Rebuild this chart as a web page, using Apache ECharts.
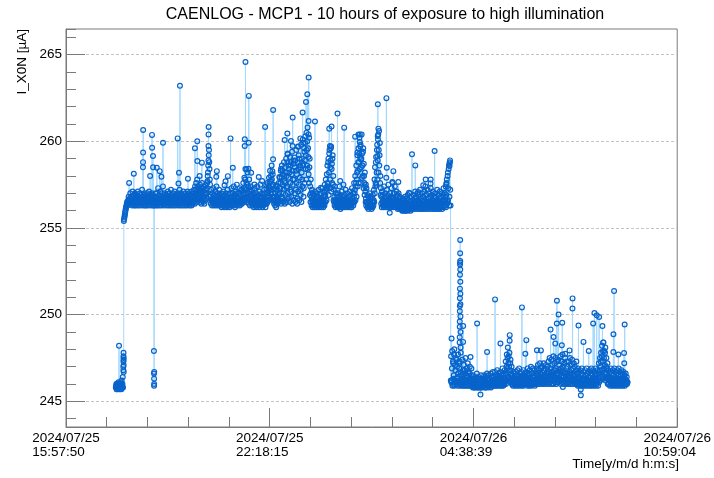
<!DOCTYPE html>
<html><head><meta charset="utf-8">
<script src="https://cdn.jsdelivr.net/npm/echarts@6/dist/echarts.min.js"></script>
<style>html,body{margin:0;padding:0;background:#fff}#c{width:714px;height:478px}</style>
</head><body><div id="c"></div>
<script>
// ---------- texts ----------
const titleText = 'CAENLOG - MCP1 - 10 hours of exposure to high illumination';
const yName = 'I_X0N [\u00b5A]';
const xName = 'Time[y/m/d h:m:s]';
// ---------- axes ----------
const axisSpan = 68474; // seconds: 2024/07/25 15:57:50 -> 2024/07/26 10:59:04
const xTickDates = ['2024/07/25', '2024/07/25', '2024/07/26', '2024/07/26'];
const xTickTimes = ['15:57:50', '22:18:15', '04:38:39', '10:59:04'];
const yMin = 243.52, yMax = 266.48;
// ---------- log readings (seconds from axis start) ----------
const sampleStart = 5580;
const sampleStep = 60;
// readings taken on the full minute
const current = [
245.8,246.0,245.7,245.9,245.8,246.1,248.2,245.8,245.7,246.0,245.9,246.2,245.8,246.4,247.0,
255.4,255.6,255.8,256.0,256.2,256.3,256.5,256.4,256.6,256.8,256.5,256.7,257.0,256.6,256.8,256.5,257.1,256.7,256.9,256.6,
256.6,257.0,256.8,256.5,256.9,256.7,257.1,256.6,256.8,256.5,257.0,256.7,256.9,256.6,257.2,256.8,256.5,256.9,256.7,257.0,
256.7,256.5,256.9,256.6,257.0,256.8,256.5,257.1,256.7,256.9,256.6,256.8,257.0,256.5,256.9,256.7,256.3,256.8,256.6,257.0,
256.8,256.5,257.0,256.7,257.3,256.6,256.9,256.5,257.1,256.8,256.6,257.0,256.7,257.4,256.5,256.9,256.6,257.0,256.8,256.5,
256.9,256.6,257.1,256.7,256.5,257.0,256.8,256.6,257.2,256.7,256.9,256.5,257.0,256.8,256.6,257.1,256.7,256.9,256.5,256.8,
257.0,256.6,256.9,256.7,257.2,256.5,256.8,257.0,256.6,256.9,256.7,257.1,256.5,256.8,256.6,257.0,256.7,256.9,256.6,257.1,
256.8,256.6,257.0,256.7,256.9,256.5,257.1,256.8,256.6,257.0,256.7,257.2,256.9,257.4,256.7,257.6,257.0,257.8,256.8,257.3,
257.1,256.7,257.5,256.9,257.3,256.6,257.6,257.0,256.8,257.4,256.7,257.2,256.9,257.5,257.0,257.3,257.7,258.2,258.9,259.5,
258.4,257.5,256.9,257.2,256.6,257.0,256.7,257.3,256.5,256.9,256.7,257.1,256.6,257.4,256.8,257.0,256.5,256.9,257.2,256.7,
256.9,256.5,257.0,256.7,256.4,256.8,257.1,256.6,256.9,256.5,257.0,256.7,256.8,256.4,257.2,256.6,256.9,256.5,257.0,256.7,
256.8,257.3,256.6,257.0,256.5,257.4,256.7,256.9,256.4,257.1,256.6,257.5,256.8,256.5,257.0,256.7,257.3,256.6,256.9,257.2,
256.7,257.2,256.5,257.6,256.9,257.9,257.3,258.4,257.0,257.6,256.8,258.2,257.4,256.7,257.8,257.1,256.6,257.4,256.9,257.2,
256.6,257.0,256.5,256.9,257.3,256.7,256.4,257.0,256.8,257.4,256.6,256.9,256.5,257.1,256.7,257.5,256.8,256.4,257.0,256.6,
256.9,256.5,257.2,256.7,257.0,256.4,257.3,256.8,257.6,256.6,257.1,257.9,257.3,258.3,257.0,257.7,258.6,257.4,258.1,257.5,
256.8,257.3,256.5,257.0,256.6,257.4,256.8,257.2,256.5,257.6,257.0,257.9,257.3,258.3,256.8,258.6,257.5,258.1,257.0,258.8,
257.7,258.5,256.9,259.0,258.0,257.4,259.3,258.6,256.8,258.2,259.1,257.6,258.8,257.1,259.4,258.3,257.8,258.9,256.6,258.5,
258.9,257.2,259.5,258.1,256.7,259.7,258.4,257.5,259.0,258.6,256.9,259.8,258.2,257.8,260.1,258.7,257.3,259.4,258.9,260.3,
259.2,260.5,258.6,260.8,259.6,258.1,260.2,259.0,257.4,257.8,256.8,257.2,256.5,257.0,256.7,256.4,256.9,257.1,256.6,256.8,
257.0,256.5,256.8,256.3,257.2,256.6,256.9,256.4,257.0,256.7,256.5,257.3,256.8,256.4,257.1,257.5,256.9,257.8,257.3,258.1,
258.6,257.4,259.0,258.2,259.5,257.8,258.9,259.7,258.4,257.6,259.2,258.0,257.2,256.8,257.4,256.6,257.0,256.4,256.9,256.5,
257.0,256.4,256.8,257.4,256.5,256.9,256.2,257.1,256.6,256.8,257.5,256.3,256.9,256.5,257.2,256.7,256.4,257.0,256.6,256.3,
256.8,256.4,257.1,256.6,256.9,256.2,257.3,256.7,257.0,256.5,257.6,257.0,258.0,257.4,258.6,257.8,259.2,258.3,259.6,258.8,
260.2,259.1,259.8,258.5,260.4,259.3,258.0,259.6,258.7,257.6,258.2,257.1,256.7,257.3,256.5,256.9,256.3,256.8,256.5,257.0,
256.4,256.8,256.2,256.7,256.5,256.9,256.3,257.2,257.8,258.5,257.6,259.1,258.2,259.8,258.9,260.4,259.5,258.6,259.9,258.0,
257.3,256.8,257.1,256.5,256.9,256.3,257.4,256.6,257.0,256.4,256.8,257.2,256.5,256.9,257.5,256.7,256.3,257.0,256.6,256.8,
257.3,256.7,257.6,256.5,257.0,256.4,257.4,256.8,256.3,257.1,256.6,256.9,256.2,257.0,256.5,256.8,256.3,256.7,256.1,256.6,
256.4,256.7,256.1,256.6,256.3,256.8,256.0,256.5,256.7,256.2,256.9,256.4,256.6,256.1,257.0,256.5,256.3,256.8,256.2,256.6,
256.4,256.9,256.2,256.7,257.1,256.5,256.8,256.3,257.0,256.6,256.2,256.9,256.5,257.2,256.4,256.7,256.3,257.0,256.6,256.8,
256.4,257.1,256.6,257.4,256.3,256.9,256.5,257.2,256.7,256.3,257.0,256.5,256.8,257.3,256.4,256.9,256.6,257.1,256.3,256.8,
256.5,257.0,256.3,256.8,256.6,257.2,256.4,256.9,256.2,256.7,257.1,256.5,256.8,256.3,257.0,256.6,256.9,257.3,256.5,257.0,
256.6,257.4,256.9,257.8,256.5,258.2,257.3,258.6,256.8,258.9,256.3,
247.6,246.2,247.9,246.0,247.2,246.5,248.0,246.1,246.8,247.5,246.0,247.0,246.4,247.7,246.2,246.9,247.3,246.0,247.8,246.5,
246.3,247.4,246.0,246.8,247.1,246.2,246.6,247.5,246.1,246.9,246.4,247.2,246.0,246.7,246.3,247.0,246.1,246.5,246.9,246.2,
246.0,246.5,245.9,246.3,245.8,246.4,246.1,245.9,246.6,246.0,246.2,245.8,246.4,245.9,246.3,246.0,246.5,245.8,246.2,246.0,
246.3,245.9,246.5,246.1,245.8,246.4,246.0,246.6,245.9,246.2,246.5,246.0,246.3,245.9,246.6,246.1,246.4,246.0,246.7,246.2,
246.4,246.0,246.7,246.2,246.5,246.0,246.8,246.3,246.1,246.6,246.0,246.4,246.7,246.1,246.5,246.2,246.9,246.0,246.6,246.3,
246.8,246.2,247.3,246.5,247.7,246.9,248.1,247.2,246.4,247.8,246.8,247.4,246.3,247.0,246.5,246.1,246.7,246.3,246.0,246.6,
246.2,246.7,246.0,246.5,246.8,246.1,246.4,246.9,246.2,246.6,246.0,246.7,246.3,246.5,246.1,246.8,246.4,246.0,246.6,246.3,
246.7,246.1,246.5,246.9,246.2,246.6,246.0,246.8,246.4,247.0,246.2,246.6,246.1,246.9,246.5,246.2,246.8,246.0,246.6,246.3,
246.9,246.3,247.1,246.5,246.8,246.2,247.2,246.6,246.9,246.3,247.0,246.4,246.8,247.2,246.5,246.9,246.2,247.1,246.6,246.4,
247.0,246.4,247.3,246.7,247.5,246.2,246.9,247.4,246.5,247.1,246.3,247.6,246.8,247.2,246.4,247.5,246.9,246.2,247.3,246.6,
247.4,246.8,247.1,246.3,247.6,246.9,247.3,246.5,247.7,247.0,246.4,247.2,246.7,247.5,246.2,246.9,247.3,246.6,247.0,246.4,
247.3,246.7,247.5,246.4,247.1,246.8,247.4,246.3,246.9,247.2,246.5,247.0,246.2,246.8,247.3,246.6,246.1,246.9,246.4,246.7,
246.3,246.8,246.1,246.6,246.9,246.2,246.5,246.0,246.7,246.3,246.8,246.1,246.5,246.9,246.2,246.6,246.0,246.7,246.4,246.8,
246.2,246.6,246.9,246.1,246.5,246.8,246.3,246.7,246.1,246.6,246.9,246.3,246.5,246.8,246.2,246.7,247.2,246.6,247.5,247.0,
247.8,246.8,248.2,247.3,248.4,246.9,247.9,247.1,248.1,246.6,247.5,246.9,247.2,246.4,246.8,246.2,246.7,246.3,246.9,246.1,
246.6,246.2,246.8,246.0,246.5,246.9,246.3,246.7,246.1,246.6,246.8,246.2,246.5,246.9,246.3,246.7,246.1,246.5,246.8,246.3,
246.6,246.2,246.7,246.1,246.5,246.3,246.6,246.2,246.4,246.1
];
// readings taken on the half minute
const midOffset = 30;
const currentMid = [
245.9,245.7,246.0,245.8,245.9,245.7,246.0,245.8,245.9,246.1,245.7,245.9,246.0,245.8,247.4,
255.5,255.7,255.9,256.1,256.2,256.4,256.3,256.5,256.4,256.6,256.4,256.5,256.6,256.4,256.5,256.3,256.6,256.4,256.5,256.3,
256.4,256.6,256.3,256.5,256.4,256.7,256.3,256.5,256.6,256.4,256.3,256.6,256.5,256.4,256.7,256.3,256.5,256.4,256.6,256.3,
256.5,256.3,256.6,256.4,256.5,256.3,256.7,256.4,256.5,256.6,256.3,256.5,256.4,256.6,256.3,256.5,246.3,256.4,256.6,256.3,
256.4,256.6,256.3,256.5,256.4,256.7,256.3,256.5,256.6,256.4,256.3,256.5,256.6,256.4,256.7,256.3,256.5,256.4,256.6,256.5,
256.3,256.5,256.4,256.6,256.3,256.5,256.4,256.7,256.3,256.5,256.6,256.4,256.3,256.5,256.4,256.6,256.3,256.5,256.6,256.4,
256.5,256.3,256.6,256.4,256.5,256.3,256.6,256.4,256.5,256.3,256.7,256.4,256.5,256.3,256.6,256.4,256.5,256.3,256.6,256.4,
256.4,256.6,256.3,256.5,256.4,256.6,256.3,256.5,256.4,256.6,256.5,256.8,256.4,257.0,256.6,257.2,256.5,257.4,256.7,257.0,
256.6,257.2,256.5,256.9,256.4,257.1,256.6,257.3,256.5,256.8,256.4,257.0,256.6,257.2,256.7,257.6,258.0,258.6,259.2,258.8,
257.8,256.8,256.4,256.6,256.3,256.5,256.4,256.6,256.3,256.5,256.4,256.6,256.3,256.5,256.4,256.6,256.3,256.5,256.4,256.6,
256.3,256.5,256.2,256.4,256.6,256.3,256.5,256.2,256.4,256.6,256.3,256.5,256.2,256.4,256.6,256.3,256.5,256.2,256.4,256.3,
256.5,256.3,256.6,256.4,256.8,256.3,256.5,256.2,256.6,256.4,257.0,256.3,256.5,256.7,256.4,256.6,256.3,256.5,256.4,256.6,
256.4,256.6,257.0,256.5,257.3,256.6,257.8,256.7,257.2,256.5,257.5,256.8,257.0,256.4,256.6,256.3,256.9,256.5,256.4,256.6,
256.3,256.5,256.2,256.6,256.4,256.3,256.5,256.2,256.6,256.4,256.3,256.5,256.2,256.6,256.4,256.8,256.3,256.5,256.2,256.4,
256.3,256.6,256.4,256.5,256.2,256.6,256.4,257.0,256.5,256.8,257.4,256.6,257.7,256.8,258.0,257.2,257.8,256.8,257.0,256.6,
256.4,256.6,256.3,256.5,256.2,256.7,256.4,256.6,256.9,256.5,257.3,256.6,257.6,256.4,257.9,256.7,258.3,256.5,258.0,257.2,
256.4,257.6,258.2,256.5,257.3,258.8,256.7,257.9,258.4,256.5,257.2,258.6,256.8,258.1,256.4,257.5,258.7,256.6,257.8,257.0,
256.5,258.3,257.6,256.4,258.8,257.1,259.2,256.6,257.9,258.5,257.2,256.5,259.0,257.4,258.6,256.8,259.6,257.6,259.9,258.4,
257.8,259.5,260.0,258.4,259.1,257.6,258.5,256.9,256.5,257.0,256.3,256.6,256.2,256.5,256.3,256.6,256.2,256.5,256.3,256.4,
256.2,256.6,256.3,256.5,256.2,256.4,256.3,256.6,256.2,256.5,256.3,256.6,256.2,256.5,256.3,256.8,256.5,257.2,256.6,257.4,
257.6,258.8,256.9,259.3,257.3,258.5,259.6,257.1,258.7,259.0,257.5,256.6,256.5,256.3,256.6,256.2,256.5,256.3,256.6,256.2,
256.5,256.2,256.6,256.3,256.1,256.5,256.3,256.6,256.2,256.4,256.3,256.6,256.2,256.5,256.3,256.4,256.2,256.5,256.3,256.4,
256.2,256.5,256.3,256.4,256.2,256.6,256.4,256.5,256.3,256.8,256.5,257.2,256.6,257.6,256.8,258.2,257.4,258.8,257.6,259.3,
258.4,259.7,257.6,259.0,257.9,258.6,259.4,257.3,258.0,256.9,257.4,256.5,256.3,256.5,256.2,256.4,256.1,256.3,256.2,256.4,
256.2,256.4,256.1,256.3,256.2,256.5,256.6,256.5,257.0,257.4,258.8,257.5,259.5,257.8,260.1,258.2,260.6,259.2,257.6,256.9,
256.4,256.2,256.5,256.3,256.6,256.2,256.5,256.3,256.4,256.2,256.5,256.3,256.6,256.2,256.4,256.3,256.5,256.2,256.4,256.3,
256.5,256.3,256.7,256.2,256.5,256.3,256.6,256.2,256.4,256.3,256.5,256.1,256.4,256.2,256.3,256.1,256.4,256.2,256.3,256.0,
256.2,256.0,256.3,256.1,256.4,256.0,256.3,256.1,256.2,256.4,256.0,256.3,256.1,256.4,256.2,256.0,256.3,256.1,256.4,256.2,
256.1,256.3,256.5,256.2,256.4,256.1,256.3,256.5,256.2,256.4,256.1,256.3,256.2,256.5,256.1,256.4,256.2,256.3,256.1,256.4,
256.2,256.4,256.1,256.3,256.5,256.2,256.4,256.1,256.3,256.5,256.2,256.4,256.1,256.3,256.5,256.2,256.4,256.1,256.3,256.2,
256.3,256.1,256.4,256.2,256.5,256.1,256.3,256.2,256.4,256.1,256.3,256.5,256.2,256.4,256.1,256.3,256.5,256.2,256.6,256.3,
256.8,256.2,257.6,256.4,258.0,256.6,258.4,256.3,258.8,257.2,246.2,
246.1,246.9,245.9,247.3,246.3,247.7,245.9,247.1,246.2,246.0,247.4,246.3,245.9,246.6,247.2,246.1,245.9,246.7,246.1,246.0,
245.9,246.2,246.6,245.9,246.3,246.8,245.9,246.2,246.5,245.9,246.1,246.4,245.9,246.2,246.6,245.9,246.3,246.0,246.2,245.9,
245.8,246.1,246.3,245.8,246.0,245.9,246.2,245.8,246.0,245.8,246.3,245.9,246.1,245.8,246.0,246.2,245.8,246.0,245.9,246.1,
245.9,246.2,245.8,246.0,246.3,245.8,246.1,245.9,246.2,245.8,246.0,246.2,245.9,246.1,245.8,246.0,246.2,245.9,246.1,245.9,
246.0,246.3,245.9,246.1,245.9,246.4,246.0,245.9,246.2,246.0,246.3,245.9,246.1,246.3,245.9,246.0,246.2,245.9,246.1,246.0,
246.1,246.6,246.0,247.0,246.2,247.5,246.4,247.6,247.0,246.3,247.2,246.1,246.6,246.0,246.3,245.9,246.2,246.0,246.3,245.9,
246.1,246.0,246.3,245.9,246.2,246.0,246.3,245.9,246.1,246.0,246.3,245.9,246.1,246.0,246.4,245.9,246.2,246.0,246.1,246.0,
246.0,246.3,245.9,246.1,246.0,246.3,245.9,246.2,246.0,246.3,245.9,246.1,246.0,246.4,246.0,246.2,245.9,246.1,246.0,246.2,
246.1,246.5,246.0,246.2,246.4,246.0,246.3,246.1,246.5,246.0,246.3,246.1,246.4,246.0,246.2,246.1,246.5,246.0,246.3,246.1,
246.2,246.6,246.0,246.4,246.1,246.5,246.2,246.0,246.7,246.2,246.4,246.0,246.5,246.1,246.8,246.2,246.0,246.6,246.1,246.3,
246.1,246.5,246.2,246.7,246.0,246.4,246.2,246.8,246.1,246.4,246.0,246.6,246.2,246.3,246.0,246.5,246.1,246.3,246.0,246.4,
246.1,246.4,246.0,246.6,246.2,246.3,246.0,246.5,246.1,246.3,246.0,246.4,246.1,246.2,246.0,246.3,245.9,246.2,246.0,246.1,
245.9,246.2,246.0,246.1,245.9,246.3,246.0,245.9,246.2,246.0,246.1,245.9,246.3,246.0,246.1,245.9,246.2,246.0,246.1,245.9,
246.0,246.2,245.9,246.3,246.0,246.1,245.9,246.2,246.0,246.3,245.9,246.1,246.0,246.2,245.9,246.4,246.1,246.8,246.2,247.3,
246.4,247.6,246.5,247.9,246.3,247.5,246.6,247.8,246.2,247.0,246.3,246.6,246.0,246.3,246.0,246.4,245.9,246.2,246.0,246.3,
245.9,246.3,246.0,246.2,245.9,246.1,246.0,246.3,245.9,246.2,246.0,246.1,245.9,246.3,246.0,246.2,245.9,246.1,246.0,246.2,
245.9,246.1,246.0,246.2,245.9,246.1,246.0,246.2,246.0,246.1
];
// ---------- isolated excursions [seconds from axis start, value] ----------
const spikes = [
[6426,246.8],[6432,247.3],[6438,247.6],[6444,247.8],[6450,247.5],[6456,247.1],[6462,246.7],
[7071,257.6],[7596,258.13],[8620,258.5],[8628,258.8],[8636,259.35],[8644,260.65],
[9635,260.37],[9645,259.63],[9745,259.15],[9755,258.5],
[9850,247.9],[9858,246.6],[9866,245.9],[9874,246.0],[9882,246.7],
[9425,258.0],[10170,258.48],[10500,258.28],[10690,257.96],[10868,259.92],
[12510,260.17],[12600,257.57],[12656,258.19],[12767,263.2],[13661,257.84],
[14443,259.6],[14705,260.0],[14715,258.86],[14966,258.0],[15225,258.77],
[15960,259.73],[15968,260.4],[15976,260.83],[16834,257.96],[16900,258.28],
[17760,257.47],[17870,257.7],[18129,257.99],[18431,260.17],[18687,258.48],
[20020,259.73],[20030,260.12],[20106,264.58],[20220,258.38],[20441,258.42],[20470,259.92],[20480,262.62],[20743,258.19],
[21110,257.51],[21591,257.94],[21970,257.71],[22306,260.83],[22420,257.47],
[23122,258.28],[23195,258.96],[23205,261.81],[23540,257.46],[23900,257.94],[24094,258.42],
[24496,260.08],[24797,260.45],[24831,259.25],[25203,260.02],[25385,259.73],[25395,261.37],[25613,259.06],
[26026,259.69],[26250,260.17],[26507,261.66],[26585,259.92],[26887,262.27],[27031,262.72],
[27168,260.4],[27176,261.17],[27184,263.68],[27891,261.14],[28561,257.32],
[29489,260.73],[29567,259.73],[29746,260.85],[30416,261.6],[30718,257.71],[31164,260.79],
[32393,260.27],[32650,259.35],[32762,260.4],[32912,259.96],[32922,260.4],[33030,258.96],[33589,257.51],
[34884,259.15],[34924,260.31],[34934,262.14],[34996,260.73],[35884,257.9],[35894,262.49],[35934,258.48],
[36269,255.88],[36560,257.65],[36672,258.28],[37230,257.65],[38425,257.03],[38760,259.25],[39129,258.61],
[39464,257.07],[40022,257.47],[40290,257.8],[40843,257.57],[40853,257.8],[41295,259.44],[42591,257.51],
[42965,258.57],[42975,258.73],
[43195,248.62],
[44100,248.4],[44105,248.7],[44110,249.3],[44115,249.6],[44120,250.2],[44125,250.5],[44130,250.95],[44135,251.5],
[44140,252.3],[44145,252.9],[44150,253.0],[44155,253.54],[44160,254.31],[44165,253.1],[44170,252.6],[44175,251.9],
[44180,251.2],[44185,250.6],[44190,249.9],[44195,249.0],[44200,248.1],
[44485,248.43],[44495,249.34],[45316,247.56],[46054,249.49],[46434,245.39],[47171,247.84],[48065,250.88],[48668,248.34],
[49700,248.5],[49710,248.82],[51081,250.42],[51460,247.75],[51572,248.53],[52756,247.95],[53203,247.94],
[54286,249.14],[54621,248.71],[54811,248.33],[54985,249.49],[54995,250.8],[55180,250.01],[55548,248.23],[55593,249.53],
[55660,245.83],[55928,247.75],[56409,247.94],[56739,250.36],[56749,250.94],[57414,249.37],[57666,245.68],[57676,245.35],
[57972,248.43],[58565,247.9],[59056,249.49],[59200,250.1],[59458,249.97],[59726,249.87],[60095,249.34],[60206,248.4],
[61320,247.85],[61328,248.87],[61400,251.36],[61882,247.7],[62518,247.79],[62540,247.2],[62585,249.43]
];

// ---------- build series data ----------
const pts = [];
current.forEach((v, i) => pts.push([sampleStart + i * sampleStep, v, 0]));
currentMid.forEach((v, i) => pts.push([sampleStart + midOffset + i * sampleStep, v, 0]));
spikes.forEach(s => pts.push([s[0], s[1], 1]));
pts.sort((a, b) => (a[0] - b[0]) || (a[2] - b[2]));
const seriesData = pts.map(p => [p[0], p[1]]);

const FONT = '"Liberation Sans", Arial, Helvetica, sans-serif';
const AX = '#7a7a7a';
const chart = echarts.init(document.getElementById('c'), null, {renderer: 'canvas'});
chart.setOption({
  animation: false,
  backgroundColor: '#ffffff',
  grid: {left: 66, right: 35, top: 29, bottom: 51, show: true, borderColor: AX, borderWidth: 1, backgroundColor: 'transparent'},
  xAxis: {
    type: 'value', min: 0, max: axisSpan, interval: axisSpan / 3,
    axisLine: {show: true, lineStyle: {color: AX, width: 1}},
    axisTick: {show: true, inside: true, length: 19, lineStyle: {color: AX, width: 1}},
    minorTick: {show: true, splitNumber: 5, length: 10, lineStyle: {color: AX, width: 1}},
    splitLine: {show: false},
    axisLabel: {
      show: true, margin: 4, color: '#000', fontFamily: FONT, fontSize: 13.5, lineHeight: 14,
      showMinLabel: true, showMaxLabel: true, align: 'center',
      formatter: v => {
        const k = Math.round(v / (axisSpan / 3));
        return xTickDates[k] ? '{a|' + xTickDates[k] + '}\n{a|' + xTickTimes[k] + '}' : '';
      },
      rich: {a: {align: 'left', color: '#000', fontFamily: FONT, fontSize: 13.5, lineHeight: 14}}
    }
  },
  yAxis: [{
    type: 'value', min: yMin, max: yMax, splitNumber: 5, position: 'left',
    axisLine: {show: true, lineStyle: {color: AX, width: 1}},
    axisTick: {show: true, inside: true, length: 19, lineStyle: {color: AX, width: 1}},
    splitLine: {show: true, showMinLine: false, showMaxLine: false, lineStyle: {color: '#c4c4c4', type: [3, 2], width: 1}},
    axisLabel: {show: true, margin: 4, color: '#000', fontFamily: FONT, fontSize: 13.5, showMinLabel: false, showMaxLabel: false,
      formatter: v => (Math.abs(v - Math.round(v)) < 1e-6 && Math.round(v) % 5 === 0) ? String(Math.round(v)) : ''}
  }, {
    type: 'value', min: yMin, max: yMax, splitNumber: 23, position: 'left', offset: 0,
    axisLine: {show: false},
    axisTick: {show: true, inside: true, length: 10, lineStyle: {color: AX, width: 1}},
    splitLine: {show: false},
    axisLabel: {show: false}
  }],
  graphic: [
    {type: 'text', x: 385, y: 15, silent: true,
     style: {text: titleText, font: '16px ' + FONT, fill: '#000', textAlign: 'center', textVerticalAlign: 'middle'}},
    {type: 'text', x: 22.5, y: 29, rotation: Math.PI / 2, silent: true,
     style: {text: yName, font: '13.5px ' + FONT, fill: '#000', textAlign: 'right', textVerticalAlign: 'middle'}},
    {type: 'text', x: 679, y: 464, silent: true,
     style: {text: xName, font: '13.5px ' + FONT, fill: '#000', textAlign: 'right', textVerticalAlign: 'middle'}}
  ],
  series: [{
    type: 'line', xAxisIndex: 0, yAxisIndex: 0, data: seriesData,
    showSymbol: true, symbol: 'circle', symbolSize: 4.8,
    itemStyle: {color: 'rgba(0,0,0,0)', borderColor: '#0864cb', borderWidth: 1.2},
    lineStyle: {color: '#a3d9ff', width: 1},
    emphasis: {disabled: true}, silent: true, clip: true
  }]
});
</script>
</body></html>
